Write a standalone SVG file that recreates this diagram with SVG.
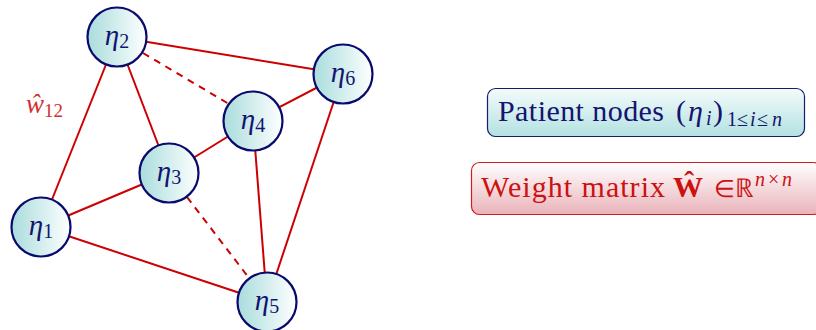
<svg xmlns="http://www.w3.org/2000/svg" width="816" height="330" viewBox="0 0 816 330">
<defs>
<linearGradient id="ng" x1="0" y1="0" x2="1" y2="0">
<stop offset="0" stop-color="#a9dcdc"/>
<stop offset="1" stop-color="#ffffff"/>
</linearGradient>
<linearGradient id="pg" x1="0" y1="0" x2="0" y2="1">
<stop offset="0" stop-color="#f4fbfb"/>
<stop offset="1" stop-color="#b3e1e1"/>
</linearGradient>
<linearGradient id="wg" x1="0" y1="0" x2="0" y2="1">
<stop offset="0" stop-color="#ffffff"/>
<stop offset="1" stop-color="#e9b3ba"/>
</linearGradient>
</defs>
<style>
.edge{stroke:#cc0000;stroke-width:2;fill:none}
.dash{stroke-dasharray:7,6}
.node circle{fill:url(#ng);stroke:#0a0a6e;stroke-width:2.2}
.lbl{font-family:"Liberation Serif",serif;font-size:29px;fill:#141470;text-anchor:middle}
.eta{font-style:italic}
.sub{font-size:20px;font-style:normal}
.box{font-family:"Liberation Serif",serif;font-size:30px}
.s{font-size:20px}
.it{font-style:italic}
</style>
<g id="connectors">
<line class="edge" x1="41" y1="227" x2="117" y2="37"/>
<line class="edge" x1="41" y1="227" x2="169" y2="173"/>
<line class="edge" x1="41" y1="227" x2="267" y2="302"/>
<line class="edge" x1="117" y1="37" x2="169" y2="173"/>
<line class="edge" x1="117" y1="37" x2="343" y2="74"/>
<line class="edge dash" x1="143" y1="53" x2="229" y2="104"/>
<line class="edge" x1="169" y1="173" x2="253" y2="121"/>
<line class="edge dash" x1="187" y1="197" x2="249" y2="278"/>
<line class="edge" x1="253" y1="121" x2="343" y2="74"/>
<line class="edge" x1="253" y1="121" x2="267" y2="302"/>
<line class="edge" x1="343" y1="74" x2="267" y2="302"/>
</g>
<text x="26" y="113" font-family="Liberation Serif,serif" font-size="27" fill="#d03030"><tspan font-style="italic">ŵ</tspan><tspan font-size="19" dy="4">12</tspan></text>
<g id="n1" class="node"><circle cx="41" cy="227" r="29.5"/><text class="lbl" x="41" y="235"><tspan class="eta">η</tspan><tspan class="sub" dy="3">1</tspan></text></g>
<g id="n2" class="node"><circle cx="117" cy="37" r="29.5"/><text class="lbl" x="117" y="45"><tspan class="eta">η</tspan><tspan class="sub" dy="3">2</tspan></text></g>
<g id="n3" class="node"><circle cx="169" cy="173" r="29.5"/><text class="lbl" x="169" y="181"><tspan class="eta">η</tspan><tspan class="sub" dy="3">3</tspan></text></g>
<g id="n4" class="node"><circle cx="253" cy="121" r="29.5"/><text class="lbl" x="253" y="129"><tspan class="eta">η</tspan><tspan class="sub" dy="3">4</tspan></text></g>
<g id="n5" class="node"><circle cx="267" cy="302" r="29.5"/><text class="lbl" x="267" y="310"><tspan class="eta">η</tspan><tspan class="sub" dy="3">5</tspan></text></g>
<g id="n6" class="node"><circle cx="343" cy="74" r="29.5"/><text class="lbl" x="343" y="82"><tspan class="eta">η</tspan><tspan class="sub" dy="3">6</tspan></text></g>
<g id="patient">
<rect x="487.5" y="88.5" width="317" height="48" rx="8" fill="url(#pg)" stroke="#1a1a6e" stroke-width="1.2"/>
<text class="box" fill="#141470"><tspan x="498" y="121" textLength="166">Patient nodes</tspan><tspan x="676" y="121">(</tspan><tspan class="it" x="688" y="121">η</tspan><tspan class="it s" x="706" y="125">i</tspan><tspan x="713" y="121">)</tspan><tspan class="s" x="727" y="126">1</tspan><tspan class="s" x="737" y="126">≤</tspan><tspan class="it s" x="750" y="126">i</tspan><tspan class="s" x="757" y="126">≤</tspan><tspan class="it s" x="772" y="126">n</tspan></text>
</g>
<g id="weight">
<rect x="471.5" y="162.5" width="350" height="52" rx="8" fill="url(#wg)" stroke="#cc2020" stroke-width="1.2"/>
<text class="box" fill="#cc1111"><tspan x="481" y="197" textLength="184">Weight matrix</tspan><tspan x="673" y="197" font-weight="bold">Ŵ</tspan><tspan x="714" y="197" font-size="24">∈</tspan><tspan x="735" y="197" font-size="26">ℝ</tspan><tspan class="it s" x="755" y="186">n</tspan><tspan class="s" x="768" y="186">×</tspan><tspan class="it s" x="782" y="186">n</tspan></text>
</g>
</svg>
